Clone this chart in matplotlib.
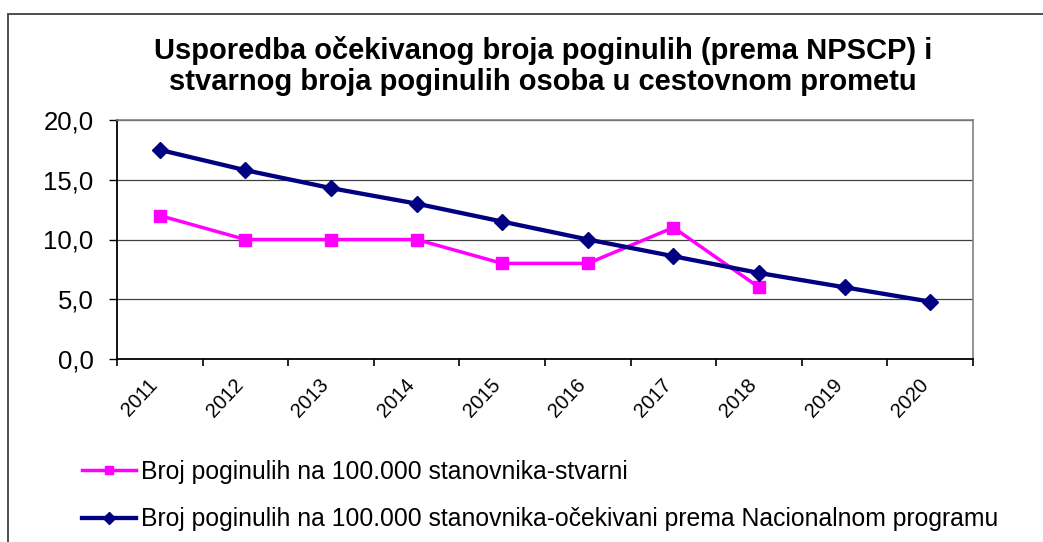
import matplotlib
matplotlib.use("Agg")
import matplotlib.pyplot as plt
from matplotlib.patches import Rectangle
from matplotlib.ticker import FuncFormatter, FixedLocator

years = ["2011", "2012", "2013", "2014", "2015", "2016", "2017", "2018", "2019", "2020"]
actual = [12.0, 10.0, 10.0, 10.0, 8.0, 8.0, 11.0, 6.0]
expected = [17.5, 15.8, 14.3, 13.0, 11.5, 10.0, 8.6, 7.2, 6.0, 4.8]
label_actual = "Broj poginulih na 100.000 stanovnika-stvarni"
label_expected = "Broj poginulih na 100.000 stanovnika-očekivani prema Nacionalnom programu"
title = "Usporedba očekivanog broja poginulih (prema NPSCP) i\nstvarnog broja poginulih osoba u cestovnom prometu"
yticks = [0, 5, 10, 15, 20]

plt.rcParams['font.family'] = ['Liberation Sans', 'DejaVu Sans']

W, H = 1043, 542
fig = plt.figure(figsize=(W / 100, H / 100), dpi=100)
fig.patch.set_facecolor("white")

# outer chart frame
fig.patches.append(Rectangle((8 / W, -0.1), 1.2, 1 - 14 / H + 0.1, transform=fig.transFigure,
                             fill=False, edgecolor="#404040", linewidth=1.3))

L, R, T, B = 117, 973, 120, 359
ax = fig.add_axes([L / W, 1 - B / H, (R - L) / W, (B - T) / H])

n = len(years)
x_exp = list(range(n))
x_act = list(range(len(actual)))

ax.plot(x_act, actual, color="#FF00FF", lw=2.5, marker="s", ms=8.5, label=label_actual, zorder=3)
ax.plot(x_exp, expected, color="#000080", lw=3.1, marker="D", ms=8.5, label=label_expected, zorder=4)

ax.set_xlim(-0.5, n - 0.5)
ax.set_ylim(0, 20)
ax.set_yticks(yticks)
ax.yaxis.set_major_formatter(FuncFormatter(lambda v, p: f"{v:.1f}".replace(".", ",")))
ax.grid(axis="y", color="#404040", lw=0.9)
ax.set_axisbelow(True)

ax.xaxis.set_major_locator(FixedLocator([i - 0.5 for i in range(n + 1)]))
ax.xaxis.set_major_formatter(FuncFormatter(lambda v, p: ""))
ax.tick_params(axis="x", direction="out", length=5, width=1.2, color="black")
ax.tick_params(axis="y", direction="out", length=6, width=1.0, color="black", pad=11, labelsize=18.5)

for i, yr in enumerate(years):
    ax.text(i - 0.06, -1.9, yr, rotation=47, rotation_mode="anchor", ha="right", va="center",
            fontsize=14.5, transform=ax.transData)

for s in ["top", "right"]:
    ax.spines[s].set_color("#808080")
    ax.spines[s].set_linewidth(1.2)
for s in ["left", "bottom"]:
    ax.spines[s].set_color("black")
    ax.spines[s].set_linewidth(1.3)

fig.text(543 / W, 1 - 66 / H, title, ha="center", va="center", fontsize=21, fontweight="bold",
         linespacing=1.12)

h, l = ax.get_legend_handles_labels()
fig.legend(h, l, loc="upper left", bbox_to_anchor=(82 / W, 1 - 460 / H), frameon=False,
           fontsize=17.8, handlelength=2.2, handletextpad=0.2, labelspacing=0.94,
           borderpad=0, borderaxespad=0, markerscale=0.75)

fig.savefig("out.png", dpi=100)
